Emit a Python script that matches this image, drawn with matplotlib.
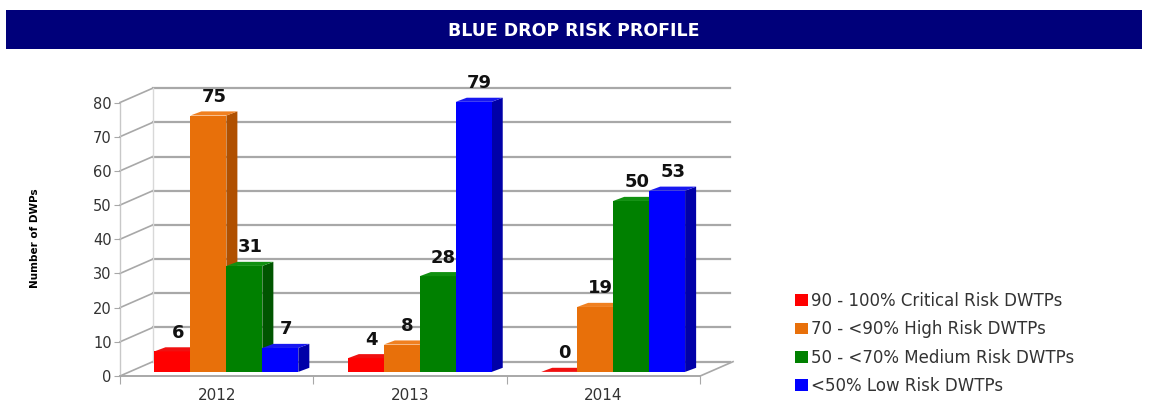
import matplotlib.pyplot as plt
from matplotlib.patches import Polygon, Patch

years = ["2012", "2013", "2014"]
series = [
    "90 - 100% Critical Risk DWTPs",
    "70 - <90% High Risk DWTPs",
    "50 - <70% Medium Risk DWTPs",
    "<50% Low Risk DWTPs",
]
critical = [6, 4, 0]
high = [75, 8, 19]
medium = [31, 28, 50]
low = [7, 79, 53]
yticks = [0, 10, 20, 30, 40, 50, 60, 70, 80]

values = [critical, high, medium, low]
# front / top / side shades for each series
shades = [
    ("#FF0000", "#F01010", "#B00000"),
    ("#E8700A", "#F08020", "#B05000"),
    ("#008000", "#109010", "#005500"),
    ("#0000FF", "#1818F0", "#0000A8"),
]

bar_w = 0.186
bar_base = 1.2
bdx, bdy = 0.057, 1.2      # bar depth offset
wdx, wdy = 0.17, 4.2       # back wall offset
grid_c = "#A8A8A8"

fig = plt.figure(figsize=(11.51, 4.07), dpi=100)

# title banner
banner = fig.add_axes([6 / 1151, 1 - 49 / 407, 1136 / 1151, 39 / 407])
banner.set_facecolor("#00007A")
banner.set_xticks([])
banner.set_yticks([])
for s in banner.spines.values():
    s.set_visible(False)
banner.text(0.5, 0.47, "BLUE DROP RISK PROFILE", color="white", fontsize=12.5,
            fontweight="bold", ha="center", va="center", transform=banner.transAxes)

ax = fig.add_axes([120 / 1151, 31 / 407, 615 / 1151, 294 / 407])
ax.set_xlim(-0.5, 2.68)
ax.set_ylim(0, 86)
for s in ax.spines.values():
    s.set_visible(False)

# back wall grid and left wall connectors
x0 = -0.5
for v in yticks:
    ax.plot([x0 + wdx, 2.656], [v + wdy, v + wdy], color=grid_c, lw=1.6,
            zorder=1, clip_on=False)
    ax.plot([x0, x0 + wdx], [v, v + wdy], color=grid_c, lw=1.2, zorder=1,
            clip_on=False)
ax.plot([x0, x0], [0, 80], color="#C8C8C8", lw=1, zorder=1, clip_on=False)
ax.plot([x0 + wdx, x0 + wdx], [wdy, 80 + wdy], color="#D8D8D8", lw=1, zorder=1)

# floor edges
ax.plot([x0, 2.5], [0, 0], color=grid_c, lw=1.4, zorder=1, clip_on=False)
ax.plot([2.5, 2.5 + wdx], [0, wdy], color=grid_c, lw=1.2, zorder=1,
        clip_on=False)

# 3d-looking bars
z = 3
for gi in range(len(years)):
    center = gi + 0.05
    for si, vals in enumerate(values):
        v = vals[gi]
        front, top, side = shades[si]
        left = center + (si - 1.5) * bar_w - bar_w / 2
        right = left + bar_w
        b = bar_base
        t = bar_base + v
        ax.add_patch(Polygon([(right, b), (right + bdx, b + bdy),
                              (right + bdx, t + bdy), (right, t)],
                             closed=True, facecolor=side, edgecolor="none",
                             zorder=z))
        ax.bar(left, v, width=bar_w, bottom=b, align="edge", color=front,
               zorder=z + 1)
        ax.add_patch(Polygon([(left, t), (right, t), (right + bdx, t + bdy),
                              (left + bdx, t + bdy)],
                             closed=True, facecolor=top, edgecolor="none",
                             zorder=z + 1))
        ax.annotate(str(v), (left + bar_w / 2 + bdx / 2, t + bdy),
                    xytext=(0, 4), textcoords="offset points", ha="center",
                    va="bottom", fontsize=13, fontweight="bold",
                    color="#111111", zorder=20)
        z += 2

# axes ticks
ax.set_yticks(yticks)
ax.set_yticklabels([str(v) for v in yticks], fontsize=10.5, color="#333333")
ax.tick_params(axis="y", length=4, color=grid_c, pad=2)
ax.set_xticks([-0.5, 0.5, 1.5, 2.5])
ax.set_xticklabels([])
ax.tick_params(axis="x", which="major", length=6, color=grid_c)
ax.set_xticks([0, 1, 2], minor=True)
ax.set_xticklabels(years, minor=True, fontsize=11, color="#333333")
ax.tick_params(axis="x", which="minor", length=0, pad=9)

fig.text(35 / 1151, 1 - 238 / 407, "Number of DWPs", rotation=90,
         fontsize=7.5, fontweight="bold", ha="center", va="center")

handles = [Patch(facecolor=shades[i][0], edgecolor="none") for i in range(4)]
fig.legend(handles, series, loc="upper left",
           bbox_to_anchor=(780 / 1151, 1 - 277 / 407), frameon=False,
           fontsize=12, handlelength=0.75, handleheight=0.7,
           handletextpad=0.2, labelspacing=0.62, labelcolor="#333333")

fig.savefig("out.png", dpi=100, facecolor="white")
